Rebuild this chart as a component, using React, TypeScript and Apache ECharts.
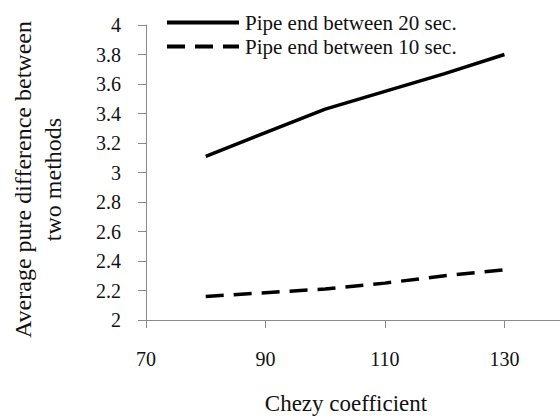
import React, { useEffect, useRef } from "react";
import * as echarts from "echarts";

const chezy = [80, 90, 100, 110, 120, 130];
const pipe20 = [3.11, 3.27, 3.43, 3.55, 3.67, 3.8];
const pipe10 = [2.16, 2.185, 2.21, 2.25, 2.3, 2.34];
const seriesNames = ["Pipe end between 20 sec.", "Pipe end between 10 sec."];
const xTitle = "Chezy coefficient";
const yTitle = "Average pure difference between\ntwo methods";

const FONT = "'Liberation Serif', 'Times New Roman', serif";

export default function App() {
  const ref = useRef<HTMLDivElement>(null);
  useEffect(() => {
    if (!ref.current) return;
    const chart = echarts.init(ref.current, undefined, { renderer: "svg" });
    chart.setOption({
      animation: false,
      backgroundColor: "#ffffff",
      textStyle: { fontFamily: FONT, color: "#111" },
      grid: { left: 146, top: 25, right: 0, bottom: 99, containLabel: false, outerBoundsMode: "none" },
      legend: {
        left: 160,
        top: 7,
        orient: "vertical",
        itemGap: 3,
        itemWidth: 72,
        itemHeight: 14,
        itemStyle: { opacity: 0 },
        lineStyle: { width: 4 },
        textStyle: { fontFamily: FONT, fontSize: 21, color: "#111", padding: [0, 0, 0, 1] },
        data: seriesNames,
      },
      xAxis: {
        type: "value",
        min: 70,
        max: 139.3,
        interval: 20,
        splitLine: { show: false },
        axisLine: { lineStyle: { color: "#8a8a8a", width: 1 } },
        axisTick: { show: true, length: 8, inside: false, lineStyle: { color: "#8a8a8a" } },
        axisLabel: {
          showMaxLabel: false,
          margin: 29,
          fontFamily: FONT,
          fontSize: 20,
          color: "#111",
        },
        name: xTitle,
        nameLocation: "middle",
        nameGap: 72,
        nameTextStyle: { fontFamily: FONT, fontSize: 23, color: "#111", padding: [0, 14, 0, 0] },
      },
      yAxis: {
        type: "value",
        min: 2,
        max: 4,
        interval: 0.2,
        splitLine: { show: false },
        axisLine: { show: true, lineStyle: { color: "#8a8a8a", width: 1 } },
        axisTick: { show: true, length: 8, inside: false, lineStyle: { color: "#8a8a8a" } },
        axisLabel: {
          margin: 25,
          fontFamily: FONT,
          fontSize: 20,
          color: "#111",
          formatter: (v: number) => String(Math.round(v * 10) / 10),
        },
        name: yTitle,
        nameLocation: "middle",
        nameRotate: 90,
        nameGap: 78,
        nameTextStyle: { fontFamily: FONT, fontSize: 24, color: "#111", lineHeight: 30, padding: [0, 14, 0, 0] },
      },
      series: [
        {
          name: seriesNames[0],
          type: "line",
          data: chezy.map((x, i) => [x, pipe20[i]]),
          symbol: "none",
          lineStyle: { color: "#000", width: 3.5, type: "solid" },
          itemStyle: { color: "#000" },
        },
        {
          name: seriesNames[1],
          type: "line",
          data: chezy.map((x, i) => [x, pipe10[i]]),
          symbol: "none",
          lineStyle: { color: "#000", width: 3.5, type: [18, 10] },
          itemStyle: { color: "#000" },
        },
      ],
    });
    return () => chart.dispose();
  }, []);
  return <div ref={ref} style={{ width: 560, height: 419, position: "absolute", left: 0, top: 0 }} />;
}
